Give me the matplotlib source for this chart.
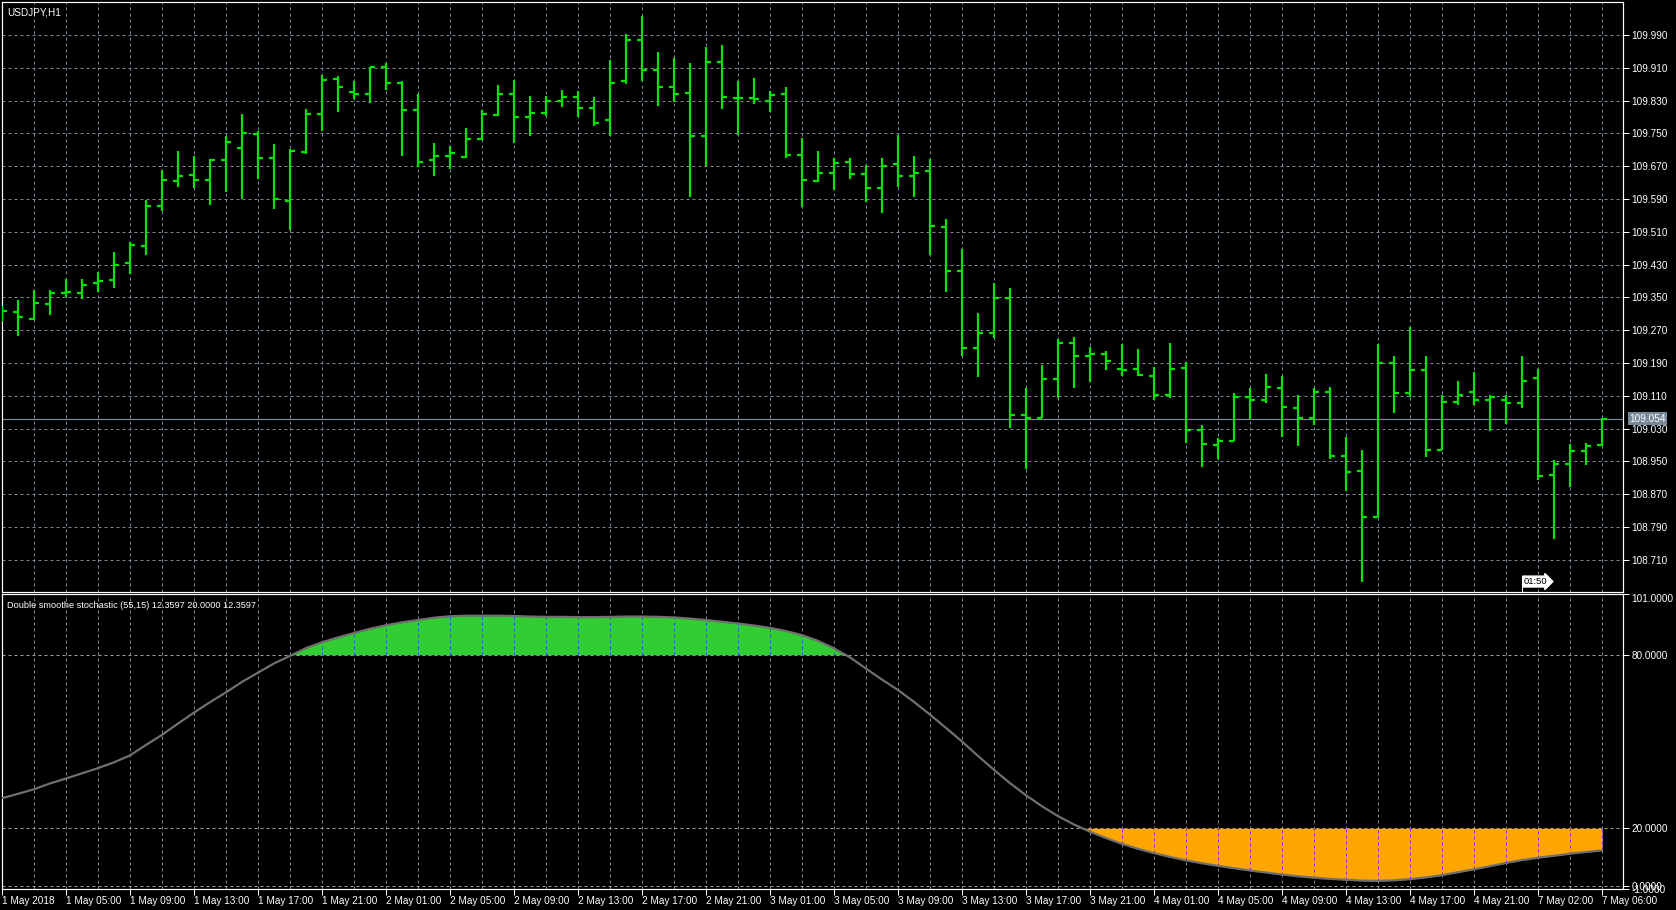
import numpy as np
import matplotlib.pyplot as plt

plt.rcParams['font.family'] = ['Liberation Sans', 'DejaVu Sans']

# USDJPY H1 bars, 1 May 2018 00:00 .. 7 May 06:00
opens = [109.300, 109.314, 109.298, 109.334, 109.361, 109.361, 109.384, 109.393, 109.435, 109.476,
         109.573, 109.634, 109.649, 109.637, 109.685, 109.715, 109.749, 109.691, 109.585, 109.705,
         109.797, 109.882, 109.852, 109.845, 109.911, 109.873, 109.806, 109.685, 109.694, 109.692,
         109.736, 109.794, 109.846, 109.789, 109.799, 109.829, 109.838, 109.812, 109.782, 109.879,
         109.977, 109.904, 109.864, 109.848, 109.744, 109.924, 109.837, 109.837, 109.829, 109.846,
         109.697, 109.634, 109.653, 109.680, 109.651, 109.617, 109.675, 109.646, 109.658, 109.522,
         109.415, 109.227, 109.262, 109.349, 109.063, 109.055, 109.152, 109.238, 109.206, 109.211,
         109.176, 109.176, 109.159, 109.111, 109.178, 109.027, 108.989, 109.001, 109.106, 109.099,
         109.128, 109.080, 109.055, 109.119, 108.962, 108.926, 108.814, 109.189, 109.117, 109.172,
         108.979, 109.096, 109.119, 109.099, 109.099, 109.093, 109.153, 108.916, 108.944, 108.975,
         108.990]
highs = [109.330, 109.344, 109.369, 109.369, 109.395, 109.394, 109.411, 109.461, 109.486, 109.587,
         109.660, 109.708, 109.694, 109.687, 109.743, 109.798, 109.755, 109.725, 109.713, 109.809,
         109.893, 109.891, 109.878, 109.911, 109.922, 109.877, 109.845, 109.727, 109.719, 109.764,
         109.808, 109.869, 109.880, 109.842, 109.842, 109.856, 109.853, 109.840, 109.928, 109.992,
         110.036, 109.948, 109.934, 109.921, 109.961, 109.966, 109.877, 109.886, 109.854, 109.862,
         109.738, 109.706, 109.690, 109.691, 109.672, 109.691, 109.747, 109.696, 109.688, 109.541,
         109.468, 109.312, 109.385, 109.372, 109.130, 109.186, 109.249, 109.253, 109.229, 109.220,
         109.236, 109.225, 109.180, 109.239, 109.192, 109.040, 109.008, 109.118, 109.128, 109.164,
         109.159, 109.111, 109.130, 109.132, 109.009, 108.978, 109.237, 109.208, 109.279, 109.208,
         109.111, 109.147, 109.169, 109.113, 109.111, 109.208, 109.175, 108.953, 108.992, 108.994,
         109.057]
lows = [109.290, 109.257, 109.294, 109.308, 109.350, 109.347, 109.364, 109.374, 109.408, 109.454,
        109.561, 109.620, 109.616, 109.576, 109.608, 109.590, 109.640, 109.566, 109.514, 109.700,
        109.755, 109.801, 109.834, 109.824, 109.855, 109.694, 109.669, 109.646, 109.664, 109.689,
        109.734, 109.792, 109.727, 109.744, 109.792, 109.814, 109.790, 109.769, 109.744, 109.871,
        109.879, 109.816, 109.826, 109.595, 109.671, 109.810, 109.747, 109.822, 109.801, 109.690,
        109.570, 109.632, 109.612, 109.639, 109.583, 109.557, 109.619, 109.595, 109.453, 109.362,
        109.208, 109.157, 109.252, 109.031, 108.931, 109.055, 109.104, 109.130, 109.143, 109.174,
        109.158, 109.158, 109.099, 109.104, 108.994, 108.936, 108.955, 109.001, 109.053, 109.093,
        109.009, 108.987, 109.038, 108.955, 108.879, 108.655, 108.814, 109.069, 109.108, 108.960,
        108.977, 109.087, 109.087, 109.024, 109.042, 109.081, 108.905, 108.761, 108.888, 108.942,
        108.988]
closes = [109.316, 109.302, 109.337, 109.361, 109.363, 109.381, 109.390, 109.430, 109.479, 109.573,
          109.637, 109.646, 109.637, 109.685, 109.729, 109.750, 109.691, 109.589, 109.706, 109.797,
          109.881, 109.864, 109.845, 109.911, 109.873, 109.806, 109.680, 109.694, 109.701, 109.736,
          109.797, 109.846, 109.789, 109.799, 109.829, 109.840, 109.812, 109.776, 109.873, 109.977,
          109.904, 109.863, 109.846, 109.744, 109.924, 109.838, 109.837, 109.833, 109.843, 109.697,
          109.637, 109.653, 109.677, 109.651, 109.617, 109.670, 109.646, 109.653, 109.524, 109.415,
          109.227, 109.262, 109.349, 109.063, 109.055, 109.152, 109.239, 109.206, 109.213, 109.195,
          109.174, 109.161, 109.111, 109.176, 109.027, 108.992, 109.001, 109.106, 109.099, 109.131,
          109.082, 109.055, 109.119, 108.964, 108.924, 108.814, 109.189, 109.117, 109.172, 108.977,
          109.096, 109.111, 109.099, 109.106, 109.093, 109.146, 108.914, 108.944, 108.975, 108.988,
          109.054]

# double smoothed stochastic (55,15)
stoch = [30.4, 31.9, 33.5, 35.5, 37.2, 39.0, 40.8, 42.8, 45.2, 48.8,
         52.3, 56.2, 60.0, 63.6, 67.0, 70.6, 73.8, 77.0, 79.6, 82.3,
         84.3, 86.0, 87.5, 89.0, 90.2, 91.2, 92.0, 92.8, 93.3, 93.5,
         93.5, 93.5, 93.4, 93.2, 93.1, 93.1, 93.0, 93.0, 93.1, 93.2,
         93.2, 93.1, 92.9, 92.5, 92.0, 91.4, 90.8, 90.1, 89.3, 88.2,
         86.8, 84.8, 82.2, 79.1, 75.2, 71.4, 67.8, 63.7, 59.3, 54.7,
         50.0, 45.0, 40.2, 35.6, 31.4, 27.6, 24.2, 21.3, 18.8, 16.6,
         14.6, 12.9, 11.4, 10.1, 8.9, 7.9, 7.0, 6.2, 5.4, 4.7,
         4.0, 3.4, 2.9, 2.5, 2.2, 1.9, 1.8, 2.0, 2.4, 3.0,
         3.8, 4.8, 5.8, 6.9, 8.0, 9.0, 9.8, 10.5, 11.2, 11.8,
         12.3597]

time_labels = ["1 May 2018", "1 May 05:00", "1 May 09:00", "1 May 13:00", "1 May 17:00",
               "1 May 21:00", "2 May 01:00", "2 May 05:00", "2 May 09:00", "2 May 13:00",
               "2 May 17:00", "2 May 21:00", "3 May 01:00", "3 May 05:00", "3 May 09:00",
               "3 May 13:00", "3 May 17:00", "3 May 21:00", "4 May 01:00", "4 May 05:00",
               "4 May 09:00", "4 May 13:00", "4 May 17:00", "4 May 21:00", "7 May 02:00",
               "7 May 06:00"]
price_labels = ["108.710", "108.790", "108.870", "108.950", "109.030", "109.110", "109.190",
                "109.270", "109.350", "109.430", "109.510", "109.590", "109.670", "109.750",
                "109.830", "109.910", "109.990"]
stoch_levels = [101.0, 80.0, 20.0, 0.0, -1.0]
last_price = 109.054

W, H = 1676, 910
bg = 'black'
grid_c = '#778899'
bar_c = '#00e600'
dash = (0, (3, 3))
px = 0.72  # one pixel in points at dpi 100

fig = plt.figure(figsize=(W / 100, H / 100), dpi=100, facecolor=bg)

def frac(x0, y0, x1, y1):
    return [x0 / W, 1 - y1 / H, (x1 - x0) / W, (y1 - y0) / H]

ax1 = fig.add_axes(frac(2, 2, 1623, 592))
ax2 = fig.add_axes(frac(2, 594, 1623, 889))
n = len(closes)
xs = np.arange(n)
xmax = 1621 / 16

for ax in (ax1, ax2):
    ax.set_facecolor(bg)
    ax.set_xlim(0, xmax)
    for s in ax.spines.values():
        s.set_color('white')
        s.set_linewidth(px * 1.2)
    for i in range(2, n, 2):
        ax.axvline(i, color=grid_c, lw=px, ls=dash, zorder=0)

# ---- price pane
ax1.set_ylim(108.6315, 110.0705)
prices = [float(p) for p in price_labels]
for p in prices:
    ax1.axhline(p, color=grid_c, lw=px, ls=dash, zorder=0)
ax1.axhline(last_price, color=grid_c, lw=px * 1.2, zorder=1)

tick = 0.33
ax1.vlines(xs, lows, highs, color=bar_c, lw=px * 2.2, zorder=3)
ax1.hlines(opens, xs - tick, xs, color=bar_c, lw=px * 2.2, zorder=3)
ax1.hlines(closes, xs, xs + tick, color=bar_c, lw=px * 2.2, zorder=3)

ax1.set_xticks([])
ax1.yaxis.tick_right()
ax1.set_yticks(prices)
ax1.set_yticklabels(price_labels)
ax1.tick_params(axis='y', colors='white', labelcolor='white', labelsize=7.2,
                length=4, width=px, pad=2)
ax1.text(0.003, 0.99, "USDJPY,H1", transform=ax1.transAxes, color='white',
         fontsize=7.2, va='top', ha='left')
ax1.text(1.004, last_price, f"{last_price:.3f}", transform=ax1.get_yaxis_transform(),
         color='white', fontsize=7.2, va='center', ha='left', zorder=5,
         bbox=dict(boxstyle='square,pad=0.15', fc='#778899', ec='none'), clip_on=False)
ax1.text(95.1, 108.657, "01:50", color='black', fontsize=6.8, va='center', ha='left',
         bbox=dict(boxstyle='rarrow,pad=0.1', fc='white', ec='white'), zorder=5)
ax1.plot([95.03, 95.03], [108.6315, 108.650], color='white', lw=px, zorder=5)

# ---- indicator pane
ax2.set_ylim(-1, 101)
for lv in (80, 20, 0):
    ax2.axhline(lv, color='#a0a0a0', lw=px, ls=dash, zorder=1)
st = np.array(stoch)
ax2.fill_between(xs, 80, st, where=st >= 80, interpolate=True, color='#32cd32', lw=0, zorder=2)
ax2.fill_between(xs, 20, st, where=st <= 20, interpolate=True, color='#ffa500', lw=0, zorder=2)
ev = xs[2::2]
up = st[ev] > 80
ax2.vlines(ev[up], 80, st[ev][up], color='#3c4fc8', lw=px, ls=dash, zorder=2.5)
dn = st[ev] < 20
ax2.vlines(ev[dn], st[ev][dn], 20, color='#8a2be2', lw=px, ls=dash, zorder=2.5)
ax2.plot(xs, st, color='#707070', lw=px * 2.2, zorder=3)

ax2.text(0.003, 0.975, "Double smoothe stochastic (55,15) 12.3597 20.0000 12.3597",
         transform=ax2.transAxes, color='white', fontsize=6.6, va='top', ha='left')

ax2.yaxis.tick_right()
ax2.set_yticks(stoch_levels)
ax2.set_yticklabels([f"{v:.4f}" for v in stoch_levels])
ax2.tick_params(axis='y', colors='white', labelcolor='white', labelsize=7.2,
                length=4, width=px, pad=2)
lbls = ax2.get_yticklabels()
lbls[0].set_va('top')

ax2.set_xticks(np.arange(0, n, 4))
ax2.set_xticklabels(time_labels, ha='left')
ax2.tick_params(axis='x', colors='white', labelcolor='white', labelsize=7.2,
                length=4, width=px, pad=1)

fig.savefig("out.png", dpi=100, facecolor=bg)
